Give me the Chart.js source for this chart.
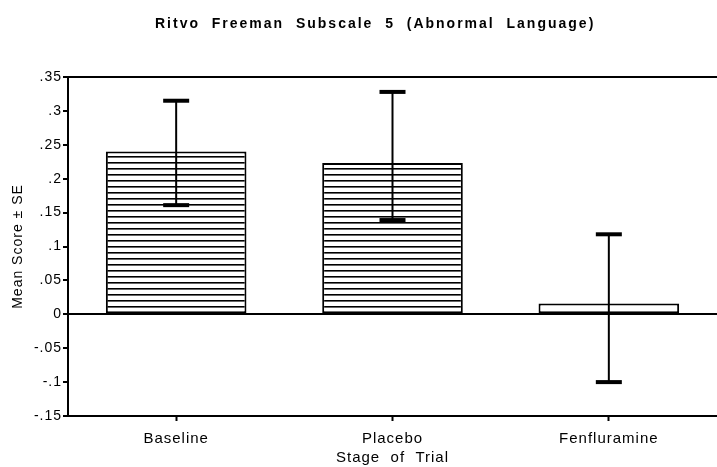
<!DOCTYPE html>
<html>
<head>
<meta charset="utf-8">
<script src="https://cdn.jsdelivr.net/npm/chart.js@4/dist/chart.umd.min.js"></script>
<style>
  html, body { margin: 0; padding: 0; background: #fff; overflow: hidden; }
  #wrap { width: 717px; height: 467px; position: relative; }
</style>
</head>
<body>
<div id="wrap"><canvas id="chart"></canvas></div>
<script>
// values
const stages = ["Baseline", "Placebo", "Fenfluramine"];
const means = [0.240, 0.223, 0.016];
const errHigh = [0.315, 0.328, 0.118];
const errLow = [0.161, 0.139, -0.100];
const yTicks = [-0.15, -0.1, -0.05, 0, 0.05, 0.1, 0.15, 0.2, 0.25, 0.3, 0.35];

const FONT = "'Liberation Sans', Arial, sans-serif";
const TITLE = "Ritvo  Freeman  Subscale  5  (Abnormal  Language)";

// old-style label: ".35", "-.05", "0"
const tickLabel = (v) => {
  if (Math.abs(v) < 1e-9) return "0";
  let s = Number(v).toFixed(2).replace(/0+$/, "");
  return s.replace("0.", ".");
};

// horizontal stripe fill
const makeHatch = () => {
  const c = document.createElement("canvas");
  c.width = 8;
  c.height = 6;
  const g = c.getContext("2d");
  g.fillStyle = "#fff";
  g.fillRect(0, 0, 8, 6);
  g.fillStyle = "#000";
  g.fillRect(0, 0, 8, 1.6);
  return g.createPattern(c, "repeat");
};
const hatch = makeHatch();

// the scanned type is spaced out a bit, canvas resets this on resize
const spacing = {
  id: "spacing",
  beforeLayout(chart) { chart.ctx.letterSpacing = "1px"; },
  beforeDraw(chart) { chart.ctx.letterSpacing = "1px"; },
};

const errorBars = {
  id: "errorBars",
  afterDatasetsDraw(chart) {
    const { ctx, scales } = chart;
    const meta = chart.getDatasetMeta(0);
    ctx.save();
    ctx.strokeStyle = "#000";
    ctx.fillStyle = "#000";
    ctx.lineWidth = 2;
    meta.data.forEach((bar, i) => {
      const x = bar.x;
      const yh = scales.y.getPixelForValue(errHigh[i]);
      const yl = scales.y.getPixelForValue(errLow[i]);
      ctx.beginPath();
      ctx.moveTo(x, yh);
      ctx.lineTo(x, yl);
      ctx.stroke();
      ctx.fillRect(x - 13, yh - 2, 26, 4);
      ctx.fillRect(x - 13, yl - 2, 26, 4);
    });
    ctx.restore();
  },
};

const frame = {
  id: "frame",
  afterDraw(chart) {
    const { ctx, chartArea } = chart;
    ctx.save();
    // top border
    ctx.strokeStyle = "#000";
    ctx.lineWidth = 2;
    ctx.beginPath();
    ctx.moveTo(chartArea.left, chartArea.top);
    ctx.lineTo(chartArea.right, chartArea.top);
    ctx.stroke();
    // title
    ctx.fillStyle = "#000";
    ctx.font = "bold 14px " + FONT;
    ctx.letterSpacing = "2px";
    ctx.textAlign = "left";
    ctx.textBaseline = "middle";
    ctx.fillText(TITLE, 155, 24);
    ctx.restore();
  },
};

new Chart(document.getElementById("chart"), {
  type: "bar",
  data: {
    labels: stages,
    datasets: [
      {
        data: means,
        backgroundColor: [hatch, hatch, "#fff"],
        borderColor: "#000",
        borderWidth: 2,
        borderSkipped: false,
        categoryPercentage: 1,
        barPercentage: 0.65,
      },
    ],
  },
  options: {
    responsive: true,
    maintainAspectRatio: false,
    animation: false,
    layout: { padding: { top: 77, right: 0, bottom: 0, left: 0 } },
    plugins: {
      legend: { display: false },
      tooltip: { enabled: false },
    },
    scales: {
      x: {
        grid: {
          offset: false,
          drawOnChartArea: false,
          tickLength: 5,
          tickColor: "#000",
          tickWidth: 2,
        },
        border: { color: "#000", width: 2 },
        ticks: { color: "#000", font: { family: FONT, size: 15 }, padding: 9 },
        title: {
          display: true,
          text: "Stage  of  Trial",
          color: "#000",
          font: { family: FONT, size: 15 },
          padding: { top: 0, bottom: 0 },
        },
        afterFit: (s) => { s.height = 51; },
      },
      y: {
        min: -0.15,
        max: 0.35,
        afterBuildTicks: (s) => { s.ticks = yTicks.map((v) => ({ value: v })); },
        grid: {
          color: (c) => (c.tick && Math.abs(c.tick.value) < 1e-9 ? "#000" : "rgba(0,0,0,0)"),
          lineWidth: 2,
          tickColor: "#000",
          tickLength: 5,
          tickWidth: 2,
        },
        border: { color: "#000", width: 2 },
        ticks: {
          color: "#000",
          font: { family: FONT, size: 14 },
          padding: 1,
          callback: (v) => tickLabel(v),
        },
        title: {
          display: true,
          text: "Mean Score ± SE",
          color: "#000",
          font: { family: FONT, size: 14 },
          padding: { top: 10, bottom: 0 },
        },
        afterFit: (s) => { s.width = 68; },
      },
    },
  },
  plugins: [spacing, errorBars, frame],
});
</script>
</body>
</html>
